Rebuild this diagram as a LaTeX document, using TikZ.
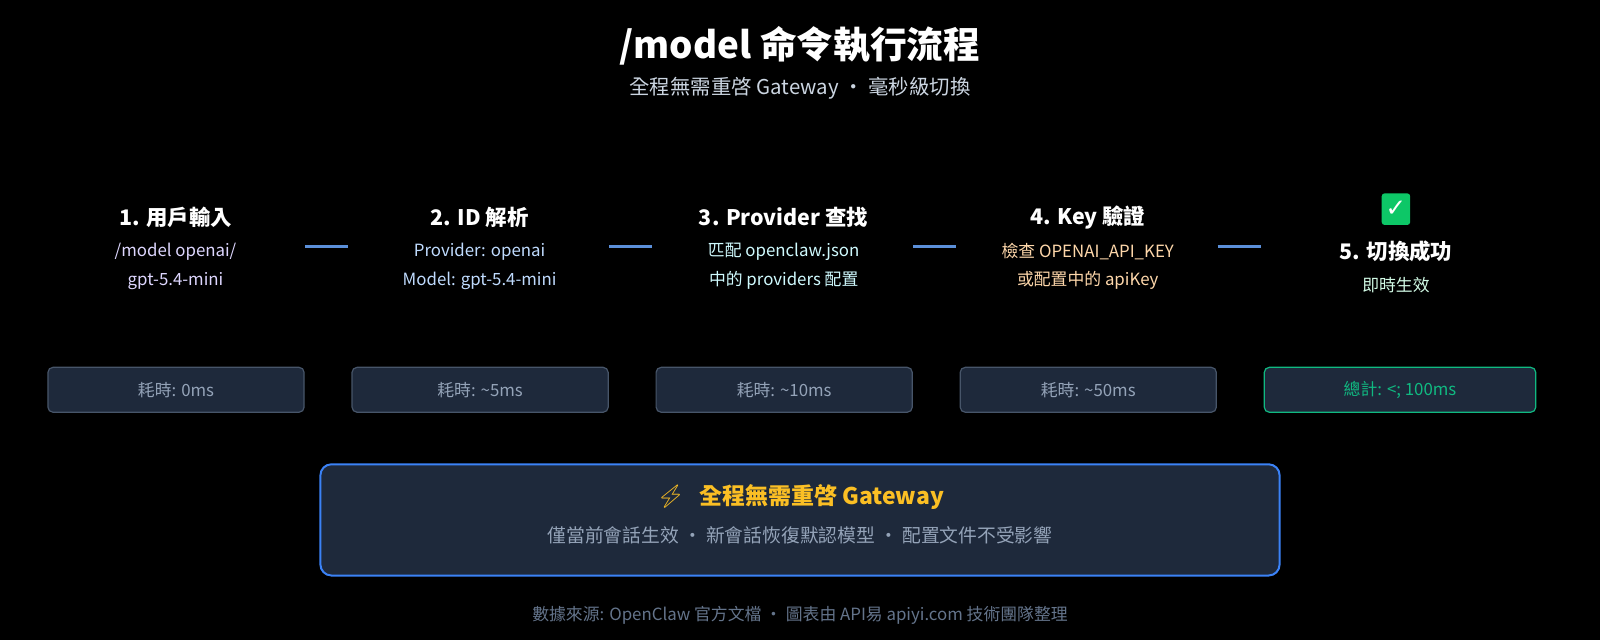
\documentclass[tikz,border=0pt]{standalone}
\usepackage{fontspec}
\setmainfont{Noto Sans CJK TC}
\newfontfamily\emo{Noto Emoji}
\newfontfamily\dv{DejaVu Sans}
\definecolor{bg}{HTML}{000000}
\definecolor{sub}{HTML}{CBD5E1}
\definecolor{cA}{HTML}{DDD6FE}
\definecolor{cB}{HTML}{BFDBFE}
\definecolor{cC}{HTML}{CFFAFE}
\definecolor{cD}{HTML}{FED7AA}
\definecolor{cE}{HTML}{D1FAE5}
\definecolor{conn}{HTML}{5B8FD9}
\definecolor{boxf}{HTML}{1E293B}
\definecolor{boxd}{HTML}{475569}
\definecolor{boxt}{HTML}{94A3B8}
\definecolor{grn}{HTML}{10B981}
\definecolor{blu}{HTML}{3B82F6}
\definecolor{yel}{HTML}{FBBF24}
\definecolor{foot}{HTML}{64748B}
\begin{document}
\begin{tikzpicture}[x=1pt,y=-1pt,scale=1.0204,every node/.append style={transform shape},
  stitle/.style={text=white,font=\fontsize{21}{25}\selectfont\bfseries},
  sdesc/.style={font=\fontsize{16.5}{28}\selectfont,align=center},
  tbox/.style={draw=boxd,fill=boxf,rounded corners=5pt,line width=1.2pt,minimum height=44pt,text=boxt,font=\fontsize{16.5}{18}\selectfont},
  connl/.style={draw=conn,line width=3pt}]
\useasboundingbox (0,0) rectangle (1568,627.2);
\fill[bg] (0,0) rectangle (1568,627.2);
\node[text=white,font=\fontsize{36}{42}\selectfont\bfseries] (title) at (784,45) {/model 命令執行流程};
\node[text=sub,font=\fontsize{20}{24}\selectfont] (subt) at (784,86) {全程無需重啓 Gateway · 毫秒級切換};
% steps
\node[stitle] (t1) at (172,213) {1. 用戶輸入};
\node[sdesc,text=cA] (d1) at (172,261) {/model openai/\\gpt-5.4-mini};
\node[stitle] (t2) at (470,213) {2. ID 解析};
\node[sdesc,text=cB] (d2) at (470,261) {Provider: openai\\Model: gpt-5.4-mini};
\node[stitle] (t3) at (768,213) {3. Provider 查找};
\node[sdesc,text=cC] (d3) at (768,261) {匹配 openclaw.json\\中的 providers 配置};
\node[stitle] (t4) at (1066,213) {4. Key 驗證};
\node[sdesc,text=cD] (d4) at (1066,261) {檢查 OPENAI\_API\_KEY\\或配置中的 apiKey};
\node[fill=grn!80!green,rounded corners=3pt,minimum width=28pt,minimum height=31pt,inner sep=0pt,text=white,font=\dv\fontsize{24}{24}\selectfont\bfseries] (chk) at (1368,205) {✓};
\node[stitle] (t5) at (1368,246) {5. 切換成功};
\node[sdesc,text=cE] (d5) at (1368,279) {即時生效};
% connectors
\coordinate (a1) at (299,242); \coordinate (b1) at (341,242);
\coordinate (a2) at (597,242); \coordinate (b2) at (639,242);
\coordinate (a3) at (895,242); \coordinate (b3) at (937,242);
\coordinate (a4) at (1193,242); \coordinate (b4) at (1235,242);
\foreach \i in {1,...,4} \draw[connl] (a\i) -- (b\i);
% time boxes
\node[tbox,minimum width=251pt] (k1) at (172.5,382) {耗時: 0ms};
\node[tbox,minimum width=251pt] (k2) at (470.5,382) {耗時: \textasciitilde5ms};
\node[tbox,minimum width=251pt] (k3) at (768.5,382) {耗時: \textasciitilde10ms};
\node[tbox,minimum width=251pt] (k4) at (1066.5,382) {耗時: \textasciitilde50ms};
\node[tbox,minimum width=266pt,draw=grn,text=grn] (k5) at (1372,382) {總計: <; 100ms};
% big box
\node[draw=blu,fill=boxf,line width=2pt,rounded corners=11pt,minimum width=940pt,minimum height=109pt] (big) at (784,509.5) {};
\node[text=yel,font=\fontsize{22.5}{26}\selectfont\bfseries] (bt) at (784,487) {{\emo ⚡}\hspace{14pt}全程無需重啓 Gateway};
\node[text=boxt,font=\fontsize{18.4}{22}\selectfont] (bs) at (784,525) {僅當前會話生效 · 新會話恢復默認模型 · 配置文件不受影響};
\node[text=foot,font=\fontsize{16.5}{20}\selectfont] (ft) at (784,603) {數據來源: OpenClaw 官方文檔 · 圖表由 API易 apiyi.com 技術團隊整理};
\end{tikzpicture}
\end{document}
